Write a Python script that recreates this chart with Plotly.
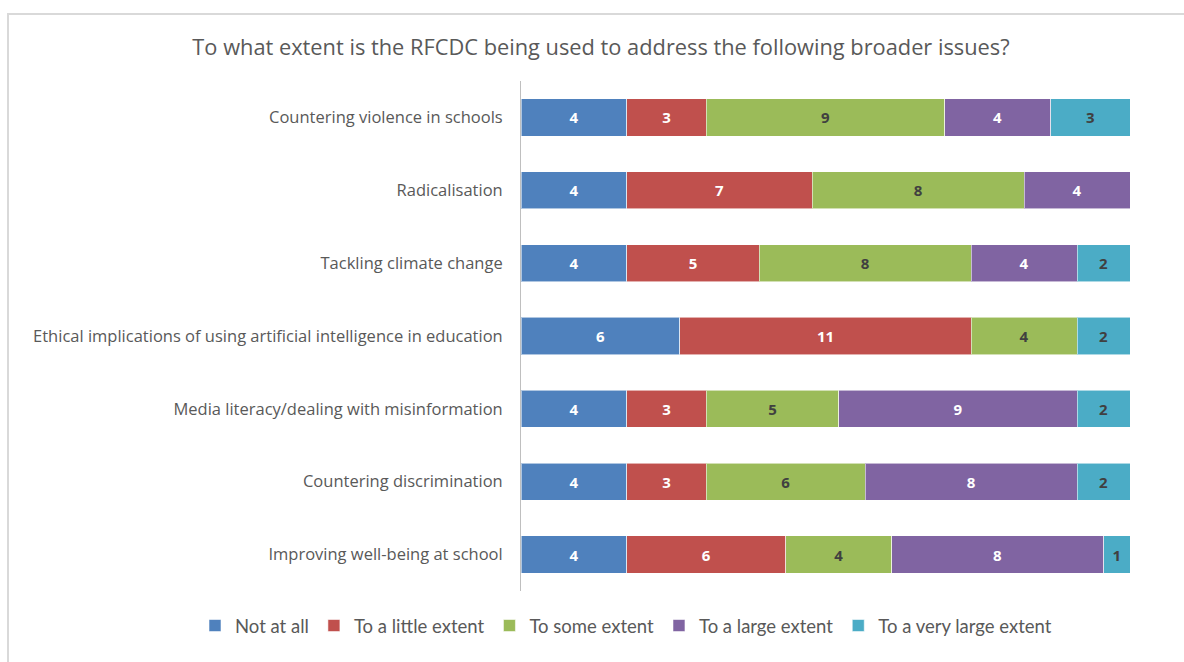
import plotly.graph_objects as go

# Survey categories (top to bottom as displayed)
categories = [
    "Countering violence in schools",
    "Radicalisation",
    "Tackling climate change",
    "Ethical implications of using artificial intelligence in education",
    "Media literacy/dealing with misinformation",
    "Countering discrimination",
    "Improving well-being at school",
]

series_names = [
    "Not at all",
    "To a little extent",
    "To some extent",
    "To a large extent",
    "To a very large extent",
]

not_at_all = [4, 4, 4, 6, 4, 4, 4]
little_extent = [3, 7, 5, 11, 3, 3, 6]
some_extent = [9, 8, 8, 4, 5, 6, 4]
large_extent = [4, 4, 4, 0, 9, 8, 8]
very_large_extent = [3, 0, 2, 2, 2, 2, 1]

series_values = [not_at_all, little_extent, some_extent, large_extent, very_large_extent]
colors = ["#4F81BD", "#C0504D", "#9BBB59", "#8064A2", "#4BACC6"]
label_colors = ["#FFFFFF", "#FFFFFF", "#404040", "#FFFFFF", "#404040"]

fig = go.Figure()
for name, vals, col, lc in zip(series_names, series_values, colors, label_colors):
    fig.add_trace(go.Bar(
        y=categories,
        x=vals,
        name=name,
        orientation="h",
        marker=dict(color=col, line=dict(color="rgba(255,255,255,0.55)", width=1)),
        text=[str(v) if v else "" for v in vals],
        textposition="inside",
        insidetextanchor="middle",
        textangle=0,
        textfont=dict(family="Open Sans", size=15, color=lc, weight="bold"),
        hoverinfo="x+y+name",
    ))

# Plot-area geometry in pixels
L, R, T, B = 521, 54, 81, 71
W, H = 1184, 662
pw, ph = W - L - R, H - T - B
def px_x(p):
    return (p - L) / pw
def px_y(p):
    return (H - B - p) / ph

# Light outer frame around the chart
fig.add_shape(
    type="rect", xref="paper", yref="paper",
    x0=px_x(8), x1=px_x(1194), y0=px_y(672), y1=px_y(14),
    line=dict(color="#D9D9D9", width=2), fillcolor="rgba(0,0,0,0)", layer="below",
)

fig.update_layout(
    barmode="stack",
    bargap=0.49,
    width=W, height=H,
    margin=dict(l=L, r=R, t=T, b=B),
    paper_bgcolor="white",
    plot_bgcolor="white",
    font=dict(family="Open Sans", color="#595959"),
    title=dict(
        text="To what extent is the RFCDC being used to address the following broader issues?",
        font=dict(family="Open Sans", size=21.8, color="#595959"),
        x=601 / W, xref="container", xanchor="center",
        y=1 - 47 / H, yref="container", yanchor="middle",
    ),
    xaxis=dict(range=[0, 23], visible=False, fixedrange=True),
    yaxis=dict(
        categoryorder="array",
        categoryarray=categories[::-1],
        showline=True, linecolor="#BFBFBF", linewidth=1,
        showgrid=False, ticks="",
        ticklabelstandoff=14,
        tickfont=dict(family="Open Sans", size=16.5, color="#595959"),
        fixedrange=True,
    ),
    legend=dict(
        orientation="h",
        x=px_x(195), xanchor="left",
        y=px_y(626), yanchor="middle",
        font=dict(family="Lato", size=18.5, color="#595959"),
        traceorder="normal",
        itemwidth=30,
    ),
    showlegend=True,
)

fig.write_html("out.html")
